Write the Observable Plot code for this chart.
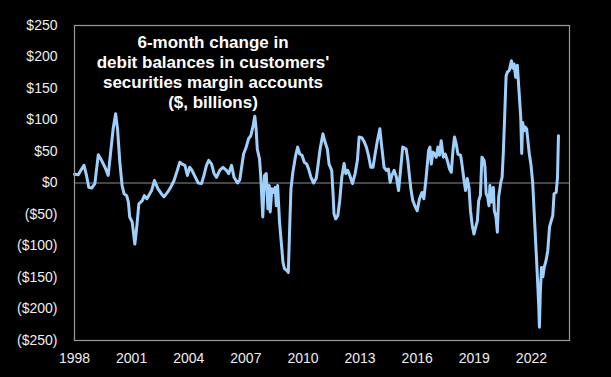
<!DOCTYPE html>
<html>
<head>
<meta charset="utf-8">
<script src="https://cdn.jsdelivr.net/npm/d3@7"></script>
<script src="https://cdn.jsdelivr.net/npm/@observablehq/plot@0.6"></script>
<style>
  html, body { margin: 0; padding: 0; background: #000; }
  #chart { width: 611px; height: 377px; }
</style>
</head>
<body>
<div id="chart"></div>
<script>
// Decimal-year dates and 6-month change values ($ billions)
const dates = [
  1998.0,1998.2,1998.33,1998.5,1998.63,1998.75,1998.9,1999.07,1999.25,1999.42,1999.6,1999.77,1999.9,
  2000.03,2000.16,2000.26,2000.38,2000.5,2000.6,2000.74,2000.83,2000.9,2001.03,2001.17,2001.28,2001.38,
  2001.56,2001.67,2001.8,2001.9,2002.05,2002.2,2002.38,2002.56,2002.7,2002.88,2003.05,2003.23,2003.4,
  2003.53,2003.65,2003.8,2003.93,2004.05,2004.17,2004.3,2004.5,2004.67,2004.8,2004.93,2005.05,2005.2,
  2005.33,2005.46,2005.63,2005.8,2005.98,2006.1,2006.25,2006.38,2006.56,2006.68,2006.74,2006.88,2007.02,
  2007.14,2007.26,2007.37,2007.47,2007.54,2007.6,2007.72,2007.79,2007.89,2007.98,2008.07,2008.16,2008.23,
  2008.28,2008.37,2008.46,2008.54,2008.6,2008.67,2008.77,2008.86,2008.95,2009.03,2009.16,2009.23,2009.3,
  2009.37,2009.47,2009.6,2009.72,2009.83,2009.95,2010.07,2010.2,2010.3,2010.42,2010.56,2010.7,2010.79,
  2010.9,2011.05,2011.16,2011.28,2011.37,2011.51,2011.58,2011.63,2011.72,2011.83,2011.93,2012.04,2012.16,
  2012.25,2012.35,2012.46,2012.6,2012.74,2012.86,2012.95,2013.09,2013.21,2013.33,2013.44,2013.56,2013.68,
  2013.79,2013.91,2014.04,2014.14,2014.26,2014.38,2014.49,2014.58,2014.67,2014.79,2014.91,2015.02,2015.14,
  2015.24,2015.42,2015.51,2015.6,2015.68,2015.77,2015.9,2016.0,2016.12,2016.25,2016.35,2016.47,2016.6,
  2016.67,2016.74,2016.83,2016.91,2017.0,2017.09,2017.17,2017.26,2017.37,2017.47,2017.58,2017.7,2017.79,
  2017.88,2017.96,2018.05,2018.14,2018.28,2018.35,2018.46,2018.54,2018.63,2018.72,2018.8,2018.89,2018.98,
  2019.05,2019.16,2019.23,2019.32,2019.4,2019.51,2019.56,2019.62,2019.7,2019.77,2019.82,2019.91,2020.0,
  2020.05,2020.14,2020.21,2020.28,2020.39,2020.46,2020.53,2020.6,2020.67,2020.74,2020.84,2020.95,2021.02,
  2021.09,2021.17,2021.26,2021.37,2021.44,2021.49,2021.54,2021.61,2021.67,2021.75,2021.89,2021.98,2022.07,
  2022.14,2022.21,2022.28,2022.33,2022.38,2022.42,2022.47,2022.53,2022.6,2022.67,2022.77,2022.86,2022.95,
  2023.04,2023.12,2023.19,2023.3,2023.37,2023.42
];
const values = [
  14,13,20,28,12,-7,-8,-1,45,36,25,12,49,
  86,110,86,33,-4,-17,-20,-30,-54,-62,-97,-67,-33,
  -28,-20,-25,-20,-12,4,-9,-17,-22,-15,-7,4,20,
  33,30,28,12,25,20,12,0,-1,12,28,36,30,
  15,9,20,25,20,15,28,9,0,5,17,46,57,
  70,75,89,106,86,54,38,7,-54,12,15,-41,-4,
  -46,-9,-15,-7,-36,-4,-62,-94,-126,-136,-139,-142,-73,
  -9,17,41,57,46,44,33,30,22,9,0,8,28,
  54,78,65,54,30,20,-17,-49,-57,-52,-28,9,31,
  15,20,12,-1,15,36,73,72,66,57,44,25,25,
  46,67,86,57,25,20,22,1,12,20,9,-12,25,
  57,54,36,9,-12,-28,-38,-44,-25,-15,-25,9,52,
  57,30,49,46,41,57,44,67,41,46,36,22,17,
  52,73,62,46,44,30,4,-12,7,-7,-44,-67,-81,
  -73,-60,-28,-20,41,36,25,-17,-22,-36,-4,-30,-7,
  -44,-54,-78,-22,1,9,52,110,170,176,179,194,182,
  189,168,187,136,104,47,96,83,89,86,46,28,-1,
  -44,-86,-128,-160,-192,-229,-171,-134,-149,-134,-123,-107,-70,
  -60,-52,-17,-15,9,75
];
const xTicks = [1998, 2001, 2004, 2007, 2010, 2013, 2016, 2019, 2022];
const yTicks = [250, 200, 150, 100, 50, 0, -50, -100, -150, -200, -250];
const titleLines = ["6-month change in", "debit balances in customers'", "securities margin accounts", "($, billions)"];

const data = dates.map((d, i) => ({date: d, value: values[i]}));
const fmtY = v => v > 0 ? "$" + v : v === 0 ? "$0" : "($" + (-v) + ")";

const chart = Plot.plot({
  width: 611,
  height: 377,
  marginLeft: 74,
  marginRight: 42,
  marginTop: 25,
  marginBottom: 37,
  style: {background: "#000", color: "#eee", fontFamily: "'Liberation Sans', Arial, sans-serif", fontSize: "14px"},
  x: {domain: [1998, 2024], ticks: xTicks, tickFormat: d => String(d), tickSize: 0, tickPadding: 13, label: null},
  y: {domain: [-250, 250], ticks: yTicks, tickFormat: fmtY, tickSize: 0, tickPadding: 17, label: null},
  marks: [
    Plot.ruleY([0], {stroke: "#8c8c8c", strokeWidth: 1}),
    Plot.line(data, {x: "date", y: "value", stroke: "#9fd0fc", strokeWidth: 3, strokeLinejoin: "round"}),
    Plot.frame({stroke: "#9a9a9a", strokeWidth: 1.2}),
    Plot.text([titleLines.join("\n")], {
      frameAnchor: "top", lineAnchor: "top", dx: -109, dy: 8,
      fill: "#fff", fontSize: 17, fontWeight: "bold", lineHeight: 1.18, textAnchor: "middle"
    })
  ]
});
document.getElementById("chart").appendChild(chart);
</script>
</body>
</html>
